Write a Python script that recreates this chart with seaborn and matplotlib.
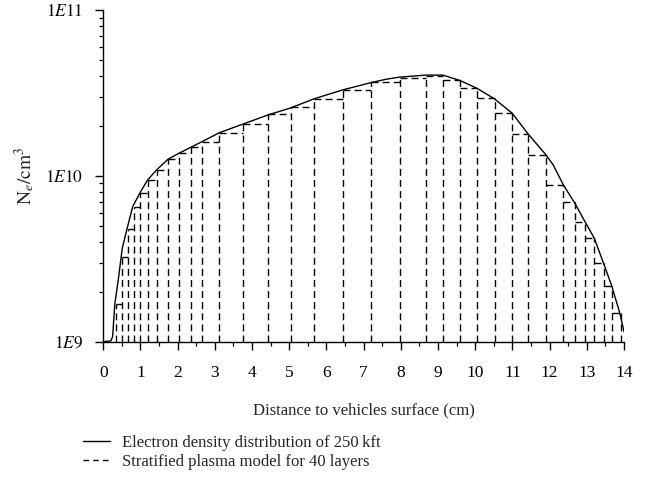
import numpy as np
import pandas as pd
import matplotlib
matplotlib.use("Agg")
import matplotlib.pyplot as plt
from matplotlib.lines import Line2D
import seaborn as sns

# Electron density curve (cm, cm^-3)
curve_x = [0.0, 0.20, 0.25, 0.31, 0.40, 0.51, 0.63, 0.79, 0.99, 1.19, 1.44, 1.74,
           2.04, 2.36, 2.66, 3.12, 3.75, 4.43, 5.02, 5.66, 6.44, 7.20, 7.62, 7.98,
           8.67, 9.13, 9.60, 10.05, 10.52, 10.99, 11.43, 11.90, 12.10, 12.37, 12.67,
           12.96, 13.20, 13.45, 13.67, 13.89, 14.0]
curve_ne = [1.00e9, 1.01e9, 1.07e9, 1.69e9, 2.34e9, 3.66e9, 4.72e9, 6.52e9, 7.93e9,
            9.44e9, 1.09e10, 1.26e10, 1.37e10, 1.49e10, 1.61e10, 1.82e10, 2.05e10,
            2.33e10, 2.56e10, 2.91e10, 3.30e10, 3.65e10, 3.83e10, 3.94e10, 4.05e10,
            4.05e10, 3.75e10, 3.37e10, 2.91e10, 2.39e10, 1.78e10, 1.34e10, 1.16e10,
            8.81e9, 6.89e9, 5.25e9, 4.21e9, 2.97e9, 2.17e9, 1.48e9, 1.15e9]

# Stratified model: layer boundaries and layer densities
layer_edges = [0.35, 0.51, 0.67, 0.82, 0.99, 1.19, 1.45, 1.74, 2.04, 2.36, 2.66, 3.12,
               3.75, 4.43, 5.04, 5.66, 6.44, 7.20, 7.98, 8.67, 9.13, 9.60, 10.05,
               10.52, 10.99, 11.43, 11.90, 12.37, 12.67, 12.96, 13.20, 13.45, 13.67,
               13.91]
layer_ne = [1.69e9, 3.26e9, 4.81e9, 6.47e9, 7.93e9, 9.44e9, 1.09e10, 1.26e10, 1.38e10,
            1.49e10, 1.61e10, 1.82e10, 2.05e10, 2.35e10, 2.59e10, 2.91e10, 3.30e10,
            3.68e10, 3.89e10, 4.00e10, 3.78e10, 3.37e10, 2.94e10, 2.39e10, 1.78e10,
            1.34e10, 8.81e9, 6.92e9, 5.26e9, 4.21e9, 2.97e9, 2.17e9, 1.48e9]

x_ticks = list(range(0, 15))
y_ticks = [1e9, 1e10, 1e11]
y_ticklabels = [r"$1E9$", r"$1E10$", r"$1E11$"]
legend_labels = ["Electron density distribution of 250\u2009kft",
                 "Stratified plasma model for 40 layers"]

sns.set_theme(style="ticks")
plt.rcParams["font.family"] = ["Liberation Serif", "DejaVu Serif"]
plt.rcParams["mathtext.fontset"] = "stix"

fig = plt.figure(figsize=(6.53, 4.79), dpi=100)
ax = fig.add_axes([103.3 / 653, 1 - 341.7 / 479, (624 - 103.3) / 653, (341.7 - 10) / 479])

df = pd.DataFrame({"x": curve_x, "ne": curve_ne})
sns.lineplot(data=df, x="x", y="ne", ax=ax, color="black", lw=1.0, sort=False,
             legend=False)

ymin = 1e9
dash = (0, (5, 3))
edges = np.array(layer_edges)
vals = np.array(layer_ne)
# horizontal tops of each layer
ax.hlines(vals, edges[:-1], edges[1:], colors="black", linestyles=dash, lw=1.0)
# vertical boundaries
left_vals = np.concatenate([[ymin], vals])
right_vals = np.concatenate([vals, [ymin]])
tops = np.maximum(left_vals, right_vals)
ax.vlines(edges, ymin, tops, colors="black", linestyles=dash, lw=1.0)

ax.set_yscale("log")
ax.set_xlim(0, 14)
ax.set_ylim(1e9, 1e11)
ax.set_xticks(x_ticks)
ax.set_xticklabels([str(t) for t in x_ticks])
ax.set_xticks(np.arange(0.5, 14, 1.0), minor=True)
ax.set_yticks(y_ticks)
ax.set_yticklabels(y_ticklabels)
sns.despine(ax=ax)
for s in ["left", "bottom"]:
    ax.spines[s].set_linewidth(1.0)
    ax.spines[s].set_color("black")
ax.tick_params(axis="both", which="major", length=5.5, width=1.0, color="black",
               labelsize=12.5, labelcolor="black", direction="out")
ax.tick_params(axis="both", which="minor", length=3, width=0.9, color="black",
               direction="out")
ax.tick_params(axis="x", which="major", pad=11)
ax.tick_params(axis="y", which="major", pad=9)

ax.set_xlabel("Distance to vehicles surface (cm)", fontsize=12, labelpad=16)
ax.set_ylabel(r"$\mathrm{N}_e/\mathrm{cm}^3$", fontsize=14, labelpad=6)

handles = [Line2D([], [], color="black", lw=1.0),
           Line2D([], [], color="black", lw=1.0, linestyle=(0, (4, 3)))]
fig.legend(handles, legend_labels, loc="upper left",
           bbox_to_anchor=(83 / 653, 1 - 435 / 479), frameon=False,
           fontsize=12, handlelength=1.6, handletextpad=0.75, labelspacing=0.18,
           borderpad=0, borderaxespad=0)

fig.savefig("out.png", dpi=100)
